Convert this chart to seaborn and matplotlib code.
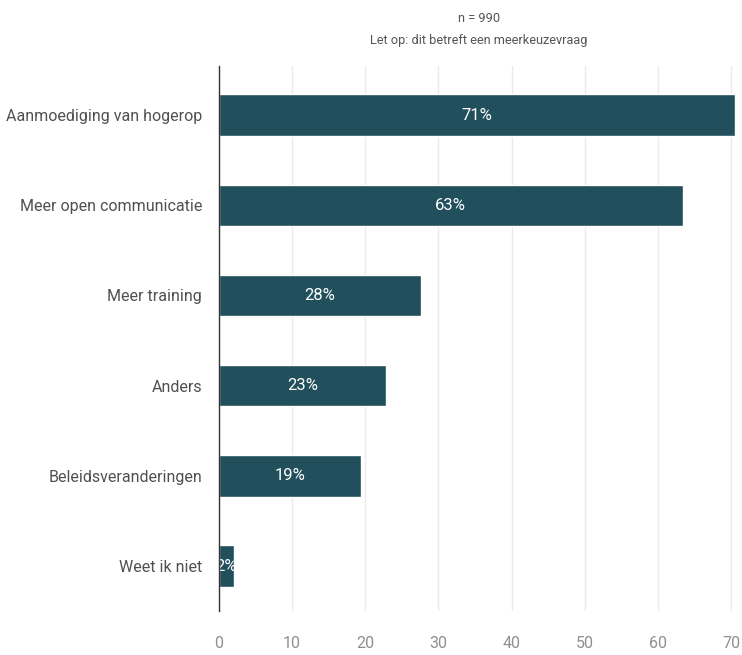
import matplotlib
matplotlib.use("Agg")
import matplotlib.pyplot as plt
import seaborn as sns
import pandas as pd

# data
categories = ["Aanmoediging van hogerop", "Meer open communicatie", "Meer training",
              "Anders", "Beleidsveranderingen", "Weet ik niet"]
values = [70.5, 63.4, 27.6, 22.9, 19.4, 2.0]
labels = ["71%", "63%", "28%", "23%", "19%", "2%"]
xticks = [0, 10, 20, 30, 40, 50, 60, 70]

df = pd.DataFrame({"categorie": categories, "pct": values})

sns.set_theme(style="white")
plt.rcParams["font.family"] = ["Roboto", "DejaVu Sans"]

fig = plt.figure(figsize=(7.42, 6.55), dpi=100)
ax = fig.add_axes([0.295, 0.067, 0.70, 0.833])

sns.barplot(data=df, x="pct", y="categorie", color="#214f5c", saturation=1,
            width=0.46, ax=ax, zorder=3)

for bar, lab in zip(ax.patches, labels):
    ax.text(bar.get_x() + bar.get_width() / 2, bar.get_y() + bar.get_height() / 2,
            lab, ha="center", va="center", color="white", fontsize=12, zorder=4)

ax.set_xlim(0, 71)
ax.set_ylim(5.5, -0.55)
ax.set_xticks(xticks)
ax.grid(axis="x", color="#ebebeb", linewidth=1, zorder=0)
ax.set_xlabel("")
ax.set_ylabel("")
ax.tick_params(axis="x", colors="#8f8f8f", labelsize=11.5, length=0, pad=18)
ax.tick_params(axis="y", colors="#505050", labelsize=11.5, length=0, pad=12)
for s in ["top", "right", "bottom"]:
    ax.spines[s].set_visible(False)
ax.spines["left"].set_color("#333333")
ax.spines["left"].set_linewidth(1)
ax.spines["left"].set_zorder(5)

fig.text(0.645, 0.972, "n = 990", ha="center", va="center", fontsize=9.2, color="#555555")
fig.text(0.645, 0.938, "Let op: dit betreft een meerkeuzevraag", ha="center", va="center",
         fontsize=9.2, color="#555555")

fig.savefig("out.png", dpi=100)
